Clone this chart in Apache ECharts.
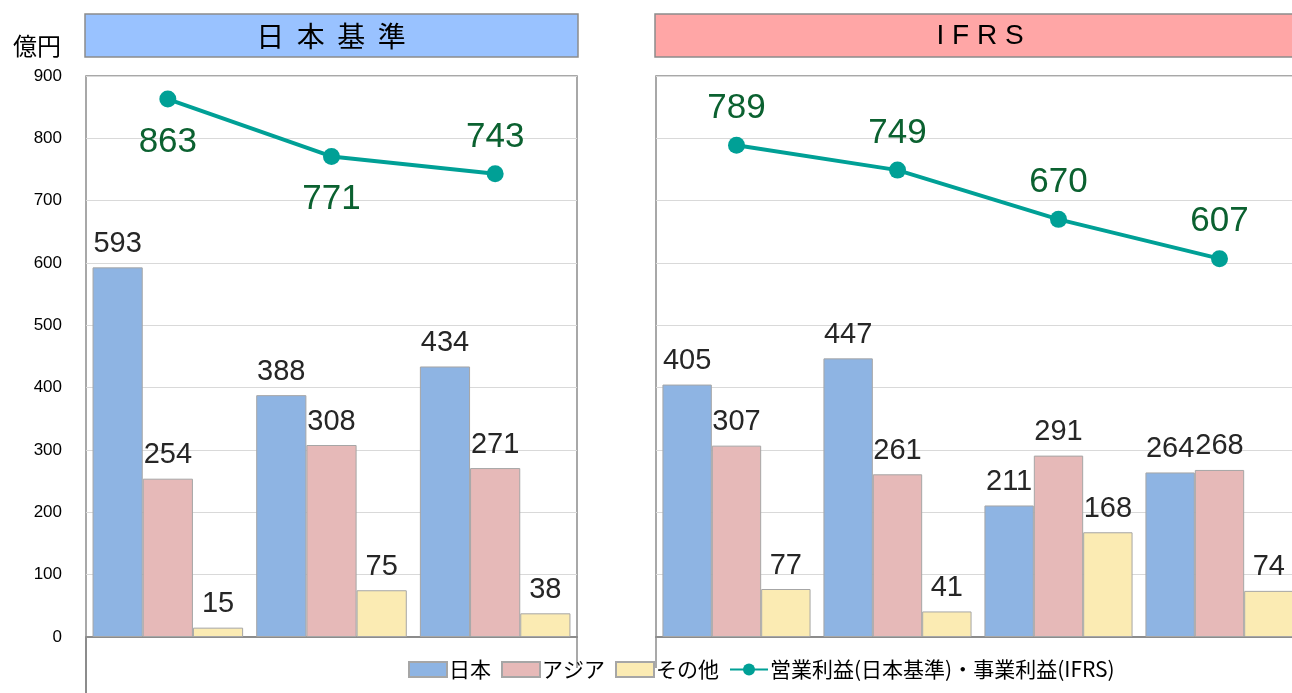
<!DOCTYPE html>
<html><head><meta charset="utf-8">
<script src="https://cdn.jsdelivr.net/npm/echarts@6/dist/echarts.min.js"></script>
<style>html,body{margin:0;padding:0;background:#fff;overflow:hidden}#c{width:1310px;height:693px}</style>
</head><body><div id="c"></div>
<script>
// ---- data ----
const catsJ = ['J1','J2','J3'];
const catsI = ['I1','I2','I3','I4'];
const japanJ = [593, 388, 434];
const asiaJ  = [254, 308, 271];
const otherJ = [15, 75, 38];
const profitJ = [863, 771, 743];
const japanI = [405, 447, 211, 264];
const asiaI  = [307, 261, 291, 268];
const otherI = [77, 41, 168, 74];
const profitI = [789, 749, 670, 607];
const yTicks = [0, 900, 100];
const seriesNames = ['日本', 'アジア', 'その他', '営業利益(日本基準)・事業利益(IFRS)'];
const panelTitles = ['日  本  基  準', 'I F R S'];
const unitLabel = '億円';

// ---- styles ----
const colors = ['#8EB4E3', '#E6B9B8', '#FBEBB3'];
const lineColor = '#00A096';
const lineLabelColor = '#0B6130';
const profitLabelPosJ = ['bottom', 'bottom', 'top'];
const profitLabelPosI = ['top', 'top', 'top', 'top'];
const numFont = '"Liberation Sans", Arial, sans-serif';
const jpFont = '"Noto Sans CJK JP", sans-serif';

const chart = echarts.init(document.getElementById('c'), null, {renderer: 'canvas'});

function barSeries(name, data, gi, color) {
  return {
    name: name, type: 'bar', xAxisIndex: gi, yAxisIndex: gi, data: data,
    barGap: '0%', barCategoryGap: '8%',
    itemStyle: {color: color, borderColor: '#A6A6A6', borderWidth: 1},
    label: {show: true, position: 'top', distance: 9, fontSize: 29, color: '#262626', fontFamily: numFont},
    z: 2
  };
}
function lineSeries(data, gi, pos) {
  return {
    name: seriesNames[3], type: 'line', xAxisIndex: gi, yAxisIndex: gi,
    data: data.map((v, i) => ({value: v, label: {position: pos[i], distance: pos[i] === 'top' ? 11 : 17}})),
    symbol: 'circle', symbolSize: 17,
    lineStyle: {color: lineColor, width: 4},
    itemStyle: {color: lineColor},
    label: {show: true, fontSize: 35, color: lineLabelColor, fontFamily: numFont},
    z: 5
  };
}

const gridTop = 76, gridH = 561;
const option = {
  animation: false,
  grid: [
    {left: 86, top: gridTop, width: 491, height: gridH, show: true, borderColor: '#8C8C8C', borderWidth: 1.5, backgroundColor: 'transparent'},
    {left: 656, top: gridTop, width: 644, height: gridH, show: true, borderColor: '#8C8C8C', borderWidth: 1.5, backgroundColor: 'transparent'}
  ],
  xAxis: [
    {type: 'category', gridIndex: 0, data: catsJ, axisLabel: {show: false}, axisTick: {show: false}, axisLine: {lineStyle: {color: '#8C8C8C', width: 2}}},
    {type: 'category', gridIndex: 1, data: catsI, axisLabel: {show: false}, axisTick: {show: false}, axisLine: {lineStyle: {color: '#8C8C8C', width: 2}}}
  ],
  yAxis: [
    {type: 'value', gridIndex: 0, min: yTicks[0], max: yTicks[1], interval: yTicks[2],
     axisLabel: {fontSize: 17, color: '#000', fontFamily: numFont, margin: 24},
     axisLine: {show: false}, axisTick: {show: false},
     splitLine: {lineStyle: {color: '#D9D9D9', width: 1}}},
    {type: 'value', gridIndex: 1, min: yTicks[0], max: yTicks[1], interval: yTicks[2],
     axisLabel: {show: false}, axisLine: {show: false}, axisTick: {show: false},
     splitLine: {lineStyle: {color: '#D9D9D9', width: 1}}}
  ],
  legend: {
    data: seriesNames.map((n, i) => i < 3 ? {name: n, icon: 'rect'} : {name: n}),
    left: 403, top: 654,
    itemWidth: 38, itemHeight: 15, itemGap: 10,
    textStyle: {fontSize: 21, color: '#000', fontFamily: jpFont, padding: [0, 0, 0, -3]}
  },
  series: [
    barSeries(seriesNames[0], japanJ, 0, colors[0]),
    barSeries(seriesNames[1], asiaJ, 0, colors[1]),
    barSeries(seriesNames[2], otherJ, 0, colors[2]),
    lineSeries(profitJ, 0, profitLabelPosJ),
    barSeries(seriesNames[0], japanI, 1, colors[0]),
    barSeries(seriesNames[1], asiaI, 1, colors[1]),
    barSeries(seriesNames[2], otherI, 1, colors[2]),
    lineSeries(profitI, 1, profitLabelPosI)
  ],
  graphic: [
    {type: 'rect', shape: {x: 85, y: 14, width: 493, height: 43}, style: {fill: '#99C2FF', stroke: '#8C8C8C', lineWidth: 1.5}},
    {type: 'text', x: 331, y: 36, style: {text: panelTitles[0], fontSize: 28, fill: '#000', fontFamily: jpFont, align: 'center', verticalAlign: 'middle'}},
    {type: 'rect', shape: {x: 655, y: 14, width: 660, height: 43}, style: {fill: '#FFA6A6', stroke: '#8C8C8C', lineWidth: 1.5}},
    {type: 'text', x: 980, y: 36, style: {text: panelTitles[1], fontSize: 28, fill: '#000', fontFamily: numFont, align: 'center', verticalAlign: 'middle'}},
    {type: 'text', x: 37, y: 46, style: {text: unitLabel, fontSize: 24, fill: '#000', fontFamily: jpFont, align: 'center', verticalAlign: 'middle'}},
    {type: 'line', shape: {x1: 86, y1: 637, x2: 86, y2: 693}, style: {stroke: '#8C8C8C', lineWidth: 2}},
    {type: 'line', shape: {x1: 577, y1: 637, x2: 577, y2: 668}, style: {stroke: '#8C8C8C', lineWidth: 1.5}},
    {type: 'line', shape: {x1: 656, y1: 637, x2: 656, y2: 668}, style: {stroke: '#8C8C8C', lineWidth: 1.5}}
  ]
};
chart.setOption(option);
</script>
</body></html>
